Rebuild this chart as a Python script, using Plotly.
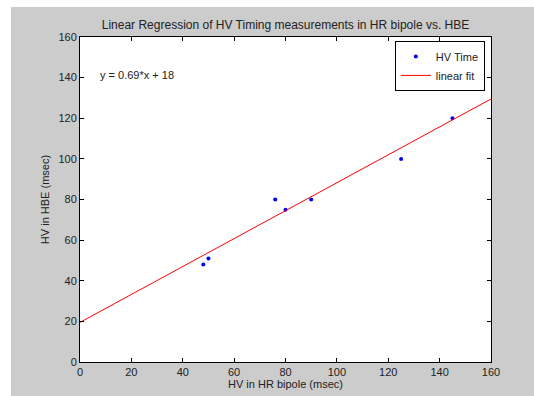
import plotly.graph_objects as go

# Data
hv_hr = [48, 50, 76, 80, 90, 125, 145]
hv_hbe = [48, 51, 80, 75, 80, 100, 120]
fit_x = [0, 160]
fit_y = [19.5, 129.5]
ticks = [0, 20, 40, 60, 80, 100, 120, 140, 160]

FONT = "Liberation Sans, Arial, sans-serif"
L, R, T, B = 80, 43, 37, 34
W, H = 534, 396
PW, PH = W - L - R, H - T - B

fig = go.Figure()
fig.add_trace(go.Scatter(x=hv_hr, y=hv_hbe, mode="markers", name="HV Time",
                         marker=dict(color="#0000ff", size=4)))
fig.add_trace(go.Scatter(x=fit_x, y=fit_y, mode="lines", name="linear fit",
                         line=dict(color="#ff0000", width=1)))

axis_common = dict(range=[0, 160], tickvals=ticks, showline=True, mirror="allticks",
                   linecolor="black", linewidth=1, ticks="inside", ticklen=4,
                   tickcolor="black", showgrid=False, zeroline=False, automargin=False,
                   tickfont=dict(family=FONT, size=11, color="#222222"))

fig.update_layout(
    width=W, height=H,
    margin=dict(l=L, r=R, t=T, b=B),
    paper_bgcolor="#cccccc", plot_bgcolor="white",
    title=dict(text="Linear Regression of HV Timing measurements in HR bipole vs. HBE",
               x=(80 + 491) / 2 / 534, xanchor="center", y=1 - 24.5 / 396, yanchor="middle",
               automargin=False,
               font=dict(family=FONT, size=12, color="#222222")),
    xaxis=dict(axis_common, title=dict(text="HV in HR bipole (msec)", standoff=2,
                                        font=dict(family=FONT, size=11, color="#222222"))),
    yaxis=dict(axis_common, title=dict(text="HV in HBE (msec)", standoff=6,
                                        font=dict(family=FONT, size=11, color="#222222"))),
    legend=dict(x=0.985, y=0.988, xanchor="right", yanchor="top", bgcolor="white",
                bordercolor="black", borderwidth=1, tracegroupgap=0,
                font=dict(family=FONT, size=11, color="#222222")),
    showlegend=True,
)

# white strips at the left and top edge of the picture
fig.add_shape(type="rect", xref="paper", yref="paper", layer="below",
              x0=-L / PW, x1=(11 - L) / PW, y0=-B / PH, y1=(H - B) / PH,
              fillcolor="white", line_width=0)
fig.add_shape(type="rect", xref="paper", yref="paper", layer="below",
              x0=-L / PW, x1=(W - L) / PW, y0=(H - B - 7) / PH, y1=(H - B) / PH,
              fillcolor="white", line_width=0)

fig.add_annotation(x=7, y=141.5, xref="x", yref="y", text="y = 0.69*x + 18",
                   showarrow=False, xanchor="left", yanchor="middle",
                   font=dict(family=FONT, size=11, color="#222222"))

fig.write_html("out.html")
